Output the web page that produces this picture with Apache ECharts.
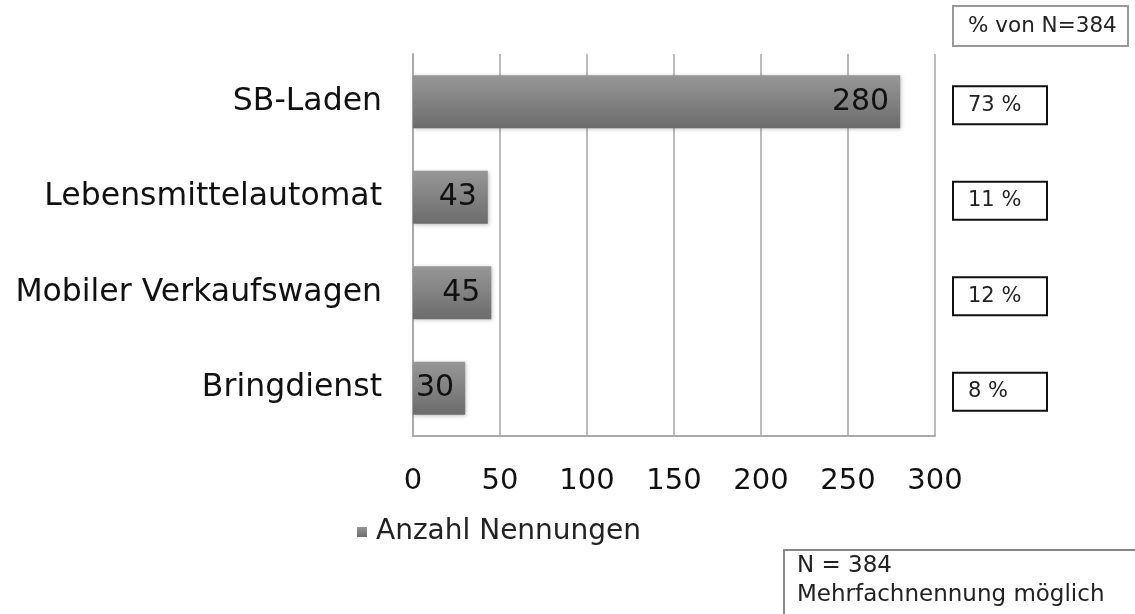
<!DOCTYPE html>
<html>
<head>
<meta charset="utf-8">
<script src="https://cdn.jsdelivr.net/npm/echarts@6/dist/echarts.min.js"></script>
<style>
html,body{margin:0;padding:0;background:#fff;}
#c{width:1135px;height:614px;}
</style>
</head>
<body>
<div id="c"></div>
<script>
const categories = ['SB-Laden', 'Lebensmittelautomat', 'Mobiler Verkaufswagen', 'Bringdienst'];
const counts = [280, 43, 45, 30];
const percents = ['73 %', '11 %', '12 %', '8 %'];
const xTicks = [0, 50, 100, 150, 200, 250, 300];
const seriesName = 'Anzahl Nennungen';
const noteLines = ['N = 384', 'Mehrfachnennung möglich'];
const percentHeader = '% von N=384';

const FONT = '"DejaVu Sans", Verdana, sans-serif';
const chart = echarts.init(document.getElementById('c'));
const catRev = categories.slice().reverse();
const cntRev = counts.slice().reverse();
const pctRev = percents.slice().reverse();

chart.setOption({
  animation: false,
  backgroundColor: '#fff',
  title: {
    text: percentHeader,
    left: 953, top: 6,
    padding: [9, 12, 9, 15],
    borderColor: '#999', borderWidth: 2,
    textStyle: { fontFamily: FONT, fontSize: 21.5, fontWeight: 'normal', color: '#222' }
  },
  legend: {
    data: [seriesName],
    left: 352, top: 513,
    itemWidth: 10, itemHeight: 10,
    icon: 'rect',
    textStyle: { fontFamily: FONT, fontSize: 28, color: '#222', padding: [0, 0, 0, 4] }
  },
  grid: { left: 413, right: 200, top: 54, bottom: 178, containLabel: false },
  xAxis: {
    type: 'value', min: xTicks[0], max: xTicks[xTicks.length - 1], interval: 50,
    axisLine: { show: true, lineStyle: { color: '#aaa', width: 2 } },
    axisTick: { show: false },
    splitLine: { show: true, lineStyle: { color: '#bbb', width: 2 } },
    axisLabel: { fontFamily: FONT, fontSize: 29, color: '#111', margin: 31 }
  },
  yAxis: [{
    type: 'category', data: catRev,
    axisLine: { show: true, lineStyle: { color: '#aaa', width: 2 } },
    axisTick: { show: false },
    axisLabel: { fontFamily: FONT, fontSize: 31.5, color: '#111', margin: 31 }
  }, {
    type: 'category', data: pctRev, position: 'right',
    axisLine: { show: false }, axisTick: { show: false },
    axisLabel: {
      margin: 18,
      padding: [7, 0, 0, 0],
      formatter: v => '{b|' + v + '}',
      rich: {
        b: {
          fontFamily: FONT, fontSize: 21, color: '#222',
          width: 79, height: 38, align: 'left',
          padding: [0, 0, 0, 15],
          borderColor: '#111', borderWidth: 2,
          lineHeight: 38
        }
      }
    }
  }],
  series: [{
    name: seriesName,
    type: 'bar',
    data: cntRev,
    barWidth: 53,
    itemStyle: {
      color: new echarts.graphic.LinearGradient(0, 0, 0, 1, [
        { offset: 0, color: '#979797' },
        { offset: 1, color: '#6c6c6c' }
      ]),
      shadowColor: 'rgba(0,0,0,0.25)', shadowBlur: 4, shadowOffsetX: 1, shadowOffsetY: 1
    },
    label: {
      show: true, position: 'insideRight', distance: 11,
      fontFamily: FONT, fontSize: 30, color: '#111'
    }
  }],
  graphic: [{
    type: 'rect', left: 783, top: 549,
    shape: { width: 400, height: 100 },
    style: { fill: '#fff', stroke: '#888', lineWidth: 2 }
  }, {
    type: 'text', left: 797, top: 552,
    style: { text: noteLines.join('\n'), fontFamily: FONT, fontSize: 23, lineHeight: 29, fill: '#222' }
  }]
});
</script>
</body>
</html>
